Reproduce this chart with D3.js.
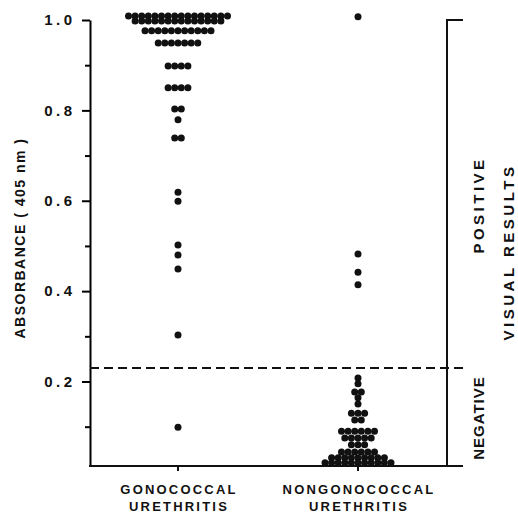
<!DOCTYPE html>
<html>
<head>
<meta charset="utf-8">
<script src="https://cdn.jsdelivr.net/npm/d3@7"></script>
<style>
  body { margin: 0; background: #fff; }
  text { font-family: "Liberation Sans", Arial, sans-serif; font-weight: bold; fill: #111; }
</style>
</head>
<body>
<div id="chart"></div>
<script>
//categories and tick labels
const categories = ["GONOCOCCAL URETHRITIS", "NONGONOCOCCAL URETHRITIS"];
const majorTicks = [0.2, 0.4, 0.6, 0.8, 1.0];
const minorTicks = [0.1, 0.3, 0.5, 0.7, 0.9];
const cutoff = 0.23;

//absorbance levels and number of specimens at each level
const gonoLevels = [1.009, 0.998, 0.976, 0.949, 0.898, 0.85, 0.803, 0.779, 0.739, 0.619, 0.599, 0.502, 0.48, 0.449, 0.303, 0.099];
const gonoCounts = [16, 14, 11, 7, 4, 4, 2, 1, 2, 1, 1, 1, 1, 1, 1, 1];
const nonGonoLevels = [1.007, 0.482, 0.442, 0.414, 0.208, 0.195, 0.177, 0.164, 0.15, 0.13, 0.115, 0.09, 0.075, 0.06, 0.044, 0.031, 0.02];
const nonGonoCounts = [1, 1, 1, 1, 1, 1, 2, 1, 1, 3, 2, 6, 5, 3, 6, 9, 11];

const width = 518;
const height = 516;
const left = 90;
const right = 463;
const bracketX = 447;
const r = 3.5;
const step = 6.6;

const svg = d3
  .select("#chart")
  .append("svg")
  .attr("width", width)
  .attr("height", height);

const x = d3.scalePoint().domain(categories).range([178, 358]);
const y = d3.scaleLinear().domain([0.013, 1]).range([466, 20]);

//turn levels + counts into dot positions
const toDots = (cat, levels, counts) => {
  const dots = [];
  levels.forEach((v, i) => {
    const n = counts[i];
    for (let k = 0; k < n; k++) {
      dots.push({ cat: cat, value: v, offset: (k - (n - 1) / 2) * step });
    }
  });
  return dots;
};
const dots = toDots(categories[0], gonoLevels, gonoCounts).concat(
  toDots(categories[1], nonGonoLevels, nonGonoCounts)
);

//left axis
const yAxis = svg
  .append("g")
  .attr("transform", `translate(${left},0)`)
  .call(d3.axisLeft(y).tickValues(majorTicks).tickSize(8).tickSizeOuter(0).tickPadding(10).tickFormat(d3.format(".1f")));
yAxis.select(".domain").attr("stroke-width", 2);
yAxis.selectAll(".tick line").attr("stroke-width", 2);
yAxis.selectAll("text").attr("font-size", 15).attr("letter-spacing", 3.5).attr("dx", 3.5);

const yMinor = svg
  .append("g")
  .attr("transform", `translate(${left},0)`)
  .call(d3.axisLeft(y).tickValues(minorTicks).tickSize(5).tickFormat(""));
yMinor.select(".domain").remove();
yMinor.selectAll(".tick line").attr("stroke-width", 2);

//bottom axis
svg
  .append("line")
  .attr("x1", left - 1)
  .attr("x2", right)
  .attr("y1", y.range()[0])
  .attr("y2", y.range()[0])
  .attr("stroke", "#111")
  .attr("stroke-width", 2);
svg
  .selectAll(".xtick")
  .data(categories)
  .join("line")
  .attr("class", "xtick")
  .attr("x1", (d) => x(d))
  .attr("x2", (d) => x(d))
  .attr("y1", y.range()[0])
  .attr("y2", y.range()[0] + 5)
  .attr("stroke", "#111")
  .attr("stroke-width", 2);
const catLabel = svg
  .selectAll(".cat")
  .data(categories)
  .join("text")
  .attr("class", "cat")
  .attr("text-anchor", "middle")
  .attr("font-size", 13)
  .attr("letter-spacing", 2.2);
catLabel
  .append("tspan")
  .attr("x", (d) => x(d) + 1)
  .attr("y", 494)
  .text((d) => d.split(" ")[0]);
catLabel
  .append("tspan")
  .attr("x", (d) => x(d) + 1)
  .attr("y", 511)
  .text((d) => d.split(" ")[1]);

//visual results bracket
svg
  .append("path")
  .attr("d", `M${right},${y(1)}H${bracketX}V${y.range()[0]}`)
  .attr("fill", "none")
  .attr("stroke", "#111")
  .attr("stroke-width", 2);
svg
  .append("line")
  .attr("x1", left)
  .attr("x2", right)
  .attr("y1", y(cutoff))
  .attr("y2", y(cutoff))
  .attr("stroke", "#111")
  .attr("stroke-width", 2)
  .attr("stroke-dasharray", "9,5");

//dots
svg
  .selectAll(".dot")
  .data(dots)
  .join("circle")
  .attr("class", "dot")
  .attr("cx", (d) => x(d.cat) + d.offset)
  .attr("cy", (d) => y(d.value))
  .attr("r", r)
  .attr("fill", "#111");

//rotated labels
const vLabel = (txt, cx, cy, size, ls) =>
  svg
    .append("text")
    .attr("transform", `translate(${cx},${cy}) rotate(-90)`)
    .attr("text-anchor", "middle")
    .attr("dy", "0.35em")
    .attr("font-size", size)
    .attr("letter-spacing", ls)
    .text(txt);
vLabel("ABSORBANCE ( 405 nm )", 20, 238, 14, 1.5);
vLabel("POSITIVE", 479, 205, 15, 3.5);
vLabel("VISUAL  RESULTS", 509, 252, 15, 3.5);
vLabel("NEGATIVE", 479, 418, 15, 1);
</script>
</body>
</html>
